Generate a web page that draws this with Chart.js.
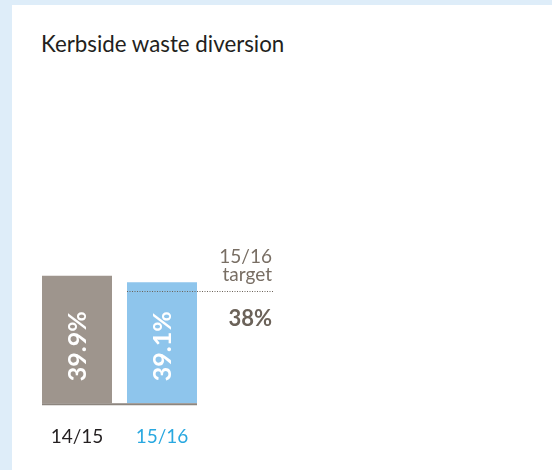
<!DOCTYPE html>
<html>
<head>
<meta charset="utf-8">
<script src="https://cdn.jsdelivr.net/npm/chart.js@4/dist/chart.umd.min.js"></script>
<style>
    html, body { margin: 0; padding: 0; }
    body { width: 552px; height: 470px; background: #deedf9; position: relative; overflow: hidden; font-family: Lato, "Open Sans", sans-serif; }
    #panel { position: absolute; left: 12px; top: 5px; right: 0; bottom: 0; background: #ffffff; }
    #title { position: absolute; left: 41px; top: 30px; font-size: 22.3px; color: #231f20; }
    #wrap { position: absolute; left: 0; top: 0; width: 552px; height: 470px; }
</style>
</head>
<body>
<div id="panel"></div>
<div id="title">Kerbside waste diversion</div>
<div id="wrap"><canvas id="myChart" width="552" height="470"></canvas></div>
<script>
(function () {

    // chart data
    const years = ['14/15', '15/16'];
    const diversion = [39.9, 39.1];
    const barColors = ['#9e958d', '#8ec5ec'];
    const labelColors = ['#231f20', '#29a8e0'];
    const targetYear = '15/16';
    const targetValue = 38;

    // value text inside each bar, rotated
    const barLabels = {
        id: 'barLabels',
        afterDatasetsDraw(chart) {
            const ctx = chart.ctx;
            const meta = chart.getDatasetMeta(0);
            const base = chart.scales.y.bottom;
            ctx.save();
            ctx.fillStyle = '#ffffff';
            ctx.font = 'bold 25px Lato';
            ctx.textAlign = 'left';
            ctx.textBaseline = 'middle';
            meta.data.forEach((bar, i) => {
                ctx.save();
                ctx.translate(bar.x + 1, base - 22);
                ctx.rotate(-Math.PI / 2);
                ctx.fillText(diversion[i] + '%', 0, 0);
                ctx.restore();
            });
            ctx.restore();
        }
    };

    // dotted target line + text, and the baseline under the bars
    const targetLine = {
        id: 'targetLine',
        afterDraw(chart) {
            const ctx = chart.ctx;
            const meta = chart.getDatasetMeta(0);
            const first = meta.data[0];
            const last = meta.data[meta.data.length - 1];
            const ty = Math.round(chart.scales.y.getPixelForValue(targetValue)) + 0.5;
            const right = 273;
            ctx.save();
            ctx.strokeStyle = '#6b6259';
            ctx.lineWidth = 1;
            ctx.setLineDash([1, 1.5]);
            ctx.beginPath();
            ctx.moveTo(last.x - last.width / 2, ty);
            ctx.lineTo(right, ty);
            ctx.stroke();
            ctx.setLineDash([]);

            ctx.fillStyle = '#786e64';
            ctx.textAlign = 'right';
            ctx.textBaseline = 'middle';
            ctx.font = '19px Lato';
            ctx.fillText(targetYear, right - 1, ty - 35);
            ctx.fillText('target', right - 1, ty - 17);
            ctx.fillStyle = '#6b6259';
            ctx.font = 'bold 22px Lato';
            ctx.fillText(targetValue + '%', right - 1, ty + 27);

            // baseline
            const by = chart.scales.y.bottom + 1;
            ctx.strokeStyle = '#8c857e';
            ctx.lineWidth = 2;
            ctx.beginPath();
            ctx.moveTo(first.x - first.width / 2, by);
            ctx.lineTo(last.x + last.width / 2, by);
            ctx.stroke();
            ctx.restore();
        }
    };

    const config = {
        type: 'bar',
        data: {
            labels: years,
            datasets: [{
                data: diversion,
                backgroundColor: barColors,
                borderWidth: 0,
                categoryPercentage: 1,
                barPercentage: 0.8235
            }]
        },
        options: {
            responsive: false,
            animation: false,
            layout: {
                padding: { left: 34.5, right: 347.5, top: 243, bottom: 0 }
            },
            scales: {
                x: {
                    grid: { display: false, drawTicks: false },
                    border: { display: false },
                    ticks: {
                        color: labelColors,
                        padding: 22,
                        font: { family: 'Lato', size: 19 }
                    }
                },
                y: {
                    display: false,
                    min: 24,
                    max: 44
                }
            },
            plugins: {
                legend: { display: false },
                tooltip: { enabled: false }
            }
        },
        plugins: [barLabels, targetLine]
    };

    new Chart(document.getElementById('myChart'), config);
})();
</script>
</body>
</html>
